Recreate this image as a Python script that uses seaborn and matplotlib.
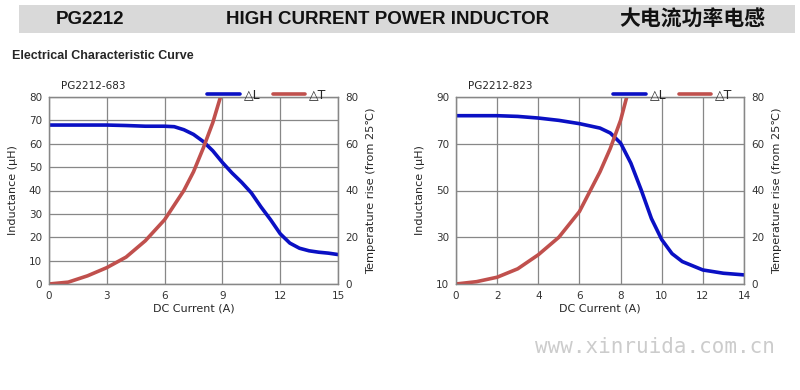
import matplotlib
matplotlib.use("Agg")
import matplotlib.pyplot as plt
import seaborn as sns
import pandas as pd
from matplotlib.patches import Rectangle

# ---- data ----
a_I_L = [0, 3, 4, 5, 6, 6.5, 7, 7.5, 8, 8.5, 9, 9.5, 10, 10.5, 11, 11.5, 12, 12.5, 13, 13.5, 14, 14.5, 15]
a_L = [68, 68, 67.8, 67.5, 67.5, 67.3, 66, 64, 61, 57, 52, 47.5, 43.5, 39, 33, 27.5, 21.5, 17.5, 15.3, 14.2, 13.6, 13.2, 12.6]
a_I_T = [0, 1, 2, 3, 4, 4.5, 5, 6, 7, 7.5, 8, 8.5, 8.9]
a_T = [0, 0.8, 3.5, 7, 11.5, 15, 18.5, 27.5, 40, 48, 58, 69, 80]

b_I_L = [0, 2, 3, 4, 5, 6, 7, 7.5, 8, 8.5, 9, 9.5, 10, 10.5, 11, 12, 13, 14]
b_L = [82, 82, 81.7, 81, 80, 78.6, 76.7, 74.6, 70.3, 61.7, 50.3, 38, 29, 23, 19.6, 16, 14.6, 13.9]
b_I_T = [0, 1, 2, 3, 4, 5, 6, 7, 7.5, 8, 8.3]
b_T = [0, 1, 2.9, 6.5, 12.5, 20, 31, 48, 58, 70, 80]

titles = ["PG2212-683", "PG2212-823"]
x_ticks_a = [0, 3, 6, 9, 12, 15]
y_ticks_a = [0, 10, 20, 30, 40, 50, 60, 70, 80]
x_ticks_b = [0, 2, 4, 6, 8, 10, 12, 14]
y_ticks_b = [10, 30, 50, 70, 90]
t_ticks = [0, 20, 40, 60, 80]

BLUE = "#0a10c4"
RED = "#c0504d"
GRID = "#878787"

sns.set_style("white")
plt.rcParams["font.family"] = ["DejaVu Sans", "Noto Sans CJK SC"]

fig = plt.figure(figsize=(8, 3.9), dpi=100)

# header band
fig.patches.append(Rectangle((19 / 800, 1 - 33 / 390), 776 / 800, 28 / 390,
                             transform=fig.transFigure, facecolor="#d9d9d9",
                             edgecolor="none", zorder=0))
hdr = dict(fontsize=13.5, fontweight="bold", va="center", color="#111111",
           family=["Liberation Sans Narrow", "Liberation Sans", "Noto Sans CJK SC"])
fig.text(90 / 800, 1 - 19 / 390, "PG2212", ha="center", **hdr)
fig.text(388 / 800, 1 - 19 / 390, "HIGH CURRENT POWER INDUCTOR", ha="center", **hdr)
fig.text(692 / 800, 1 - 19 / 390, "大电流功率电感", ha="center", fontsize=15,
         fontweight="bold", va="center", color="#111111", family=["Noto Sans CJK SC"])
fig.text(12 / 800, 1 - 56 / 390, "Electrical Characteristic Curve", ha="left", va="center",
         fontsize=9, fontweight="bold", family=["Liberation Sans", "DejaVu Sans"])

fig.text(535 / 800, 1 - 347 / 390, "www.xinruida.com.cn", ha="left", va="center",
         fontsize=15, color="#cccccc", family=["DejaVu Sans Mono"])


def panel(rect, xI, L, xT, T, xt, yt, xlim, ylim, title):
    ax = fig.add_axes(rect)
    ax2 = ax.twinx()
    dL = pd.DataFrame({"I": xI, "L": L})
    dT = pd.DataFrame({"I": xT, "T": T})
    sns.lineplot(data=dL, x="I", y="L", ax=ax, color=BLUE, lw=2.6, label="△L", legend=False)
    sns.lineplot(data=dT, x="I", y="T", ax=ax2, color=RED, lw=2.6, label="△T", legend=False)
    ax.set_xlim(*xlim)
    ax.set_ylim(*ylim)
    ax2.set_ylim(0, 80)
    ax.set_xticks(xt)
    ax.set_yticks(yt)
    ax2.set_yticks(t_ticks)
    ax.grid(True, color=GRID, lw=0.9)
    ax.set_axisbelow(True)
    for a in (ax, ax2):
        for s in a.spines.values():
            s.set_color(GRID)
            s.set_linewidth(0.9)
        a.tick_params(labelsize=7.5, length=0, pad=5, colors="#333333")
    ax.set_xlabel("DC Current (A)", fontsize=8, labelpad=2)
    ax.set_ylabel("Inductance (μH)", fontsize=8, labelpad=8)
    ax2.set_ylabel("Temperature rise (from 25℃)", fontsize=8.2, labelpad=6)
    ax.text(0.04, 1.03, title, transform=ax.transAxes, fontsize=7.5, ha="left", va="bottom")
    h1, l1 = ax.get_legend_handles_labels()
    h2, l2 = ax2.get_legend_handles_labels()
    ax2.legend(h1 + h2, l1 + l2, ncol=2, loc="lower right", bbox_to_anchor=(0.96, 0.975),
               frameon=False, fontsize=9, handlelength=2.6, columnspacing=1.0,
               handletextpad=0.3, borderaxespad=0, borderpad=0)
    return ax


panel([49 / 800, 1 - 284 / 390, 289 / 800, 187 / 390], a_I_L, a_L, a_I_T, a_T,
      x_ticks_a, y_ticks_a, (0, 15), (0, 80), titles[0])
panel([456 / 800, 1 - 284 / 390, 288 / 800, 187 / 390], b_I_L, b_L, b_I_T, b_T,
      x_ticks_b, y_ticks_b, (0, 14), (10, 90), titles[1])

fig.savefig("out.png", dpi=100, facecolor="white")
